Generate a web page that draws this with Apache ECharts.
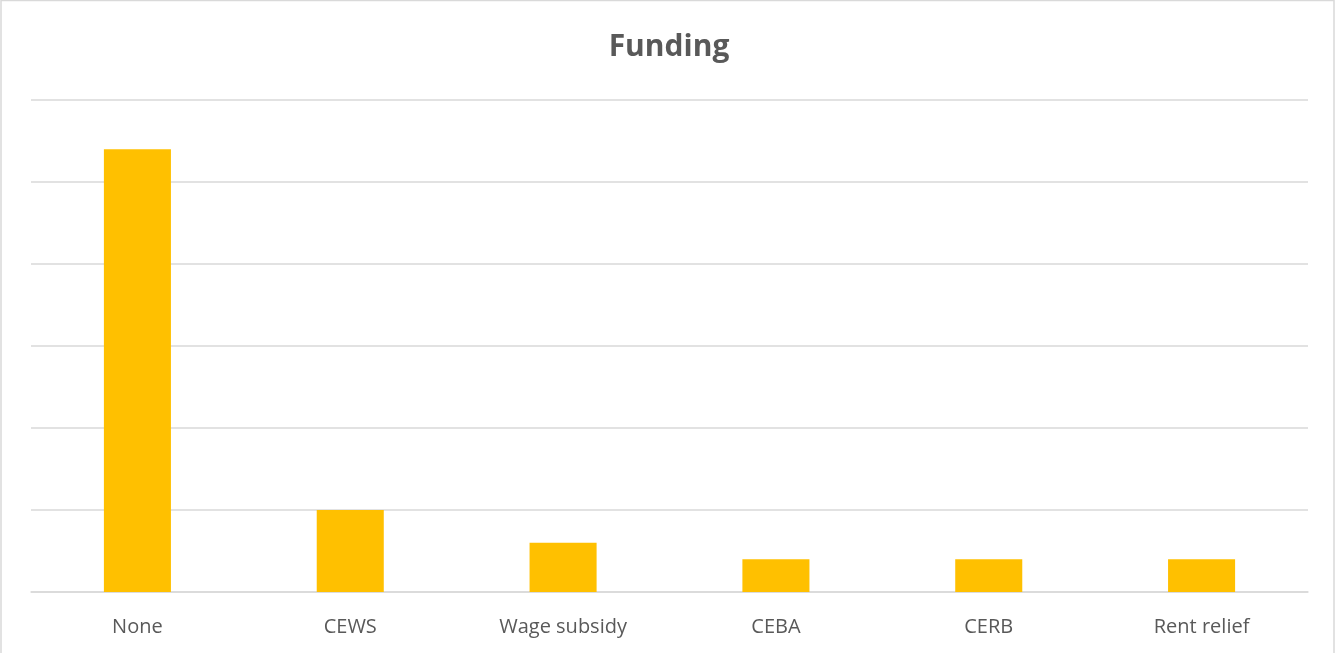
<!DOCTYPE html>
<html>
<head>
<meta charset="utf-8">
<script src="https://cdn.jsdelivr.net/npm/echarts@6/dist/echarts.min.js"></script>
<style>
  html, body { margin: 0; padding: 0; background: #fff; }
  #chart { width: 1338px; height: 653px; }
</style>
</head>
<body>
<div id="chart"></div>
<script>
// Funding sources reported
const categories = ['None', 'CEWS', 'Wage subsidy', 'CEBA', 'CERB', 'Rent relief'];
const counts = [27, 5, 3, 2, 2, 2];

const chart = echarts.init(document.getElementById('chart'));
chart.setOption({
  animation: false,
  backgroundColor: '#ffffff',
  title: {
    text: 'Funding',
    left: 'center',
    top: 27,
    textStyle: {
      fontFamily: 'Open Sans',
      fontSize: 30,
      fontWeight: 'bold',
      color: '#595959'
    }
  },
  graphic: [{
    type: 'rect',
    shape: { x: 1, y: 0.5, width: 1333, height: 660 },
    style: { fill: 'none', stroke: '#d9d9d9', lineWidth: 1.5 },
    silent: true
  }],
  grid: { left: 31, right: 30, top: 100, bottom: 61 },
  xAxis: {
    type: 'category',
    data: categories,
    axisLine: { show: true, lineStyle: { color: '#d9d9d9', width: 1.5 } },
    axisTick: { show: false },
    axisLabel: {
      margin: 25,
      fontFamily: 'Open Sans',
      fontSize: 20,
      color: '#595959'
    }
  },
  yAxis: {
    type: 'value',
    min: 0,
    max: 30,
    interval: 5,
    axisLabel: { show: false },
    axisLine: { show: false },
    axisTick: { show: false },
    splitLine: { lineStyle: { color: '#d9d9d9', width: 1.5 } }
  },
  series: [{
    type: 'bar',
    data: counts,
    barWidth: '31.5%',
    itemStyle: { color: '#ffc000' }
  }]
});
</script>
</body>
</html>
